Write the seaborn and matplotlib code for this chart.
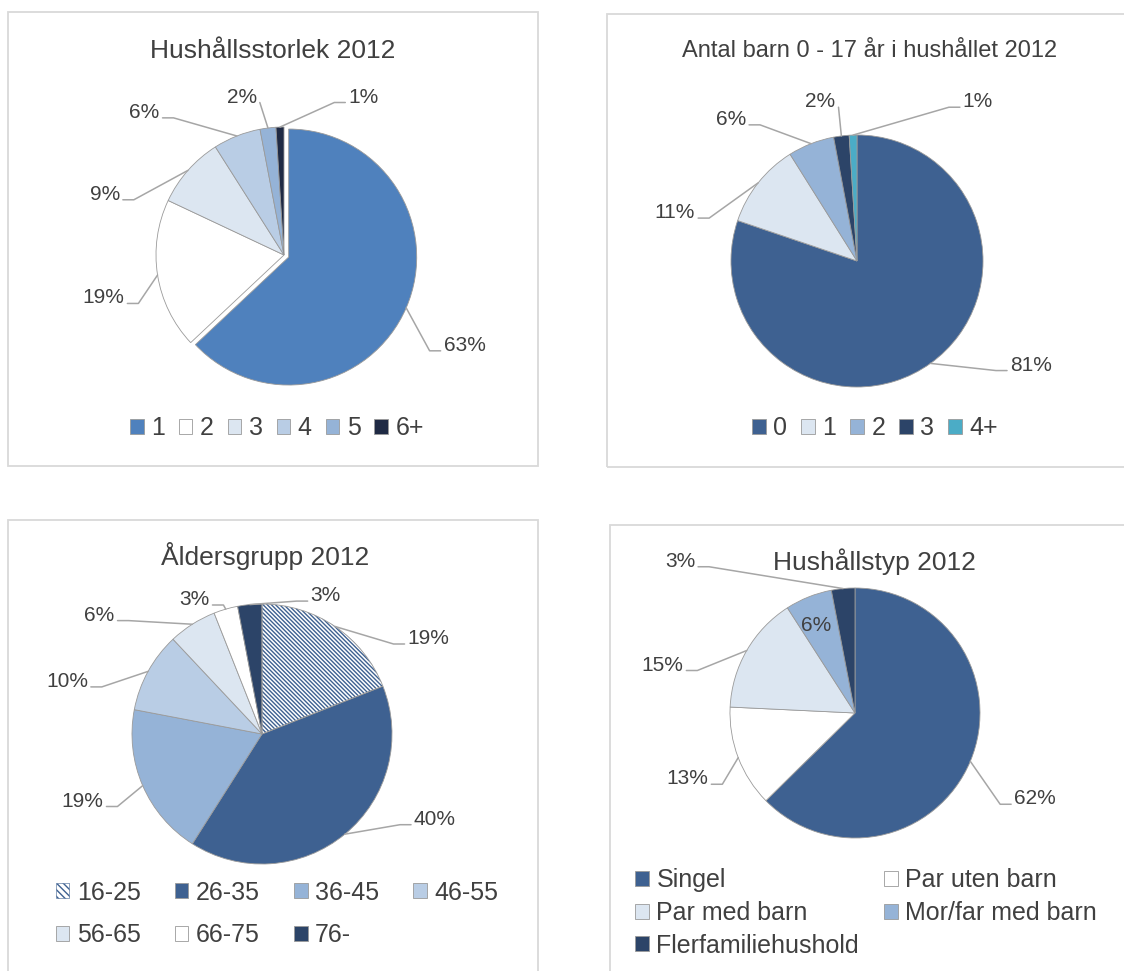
import numpy as np
import matplotlib
matplotlib.use('Agg')
import matplotlib.pyplot as plt
from matplotlib.patches import Rectangle, Patch, Wedge
import seaborn as sns

# ---- data ----
size_labels = ['1', '2', '3', '4', '5', '6+']
size_values = [63, 19, 9, 6, 2, 1]

kids_labels = ['0', '1', '2', '3', '4+']
kids_values = [81, 11, 6, 2, 1]

age_labels = ['16-25', '26-35', '36-45', '46-55', '56-65', '66-75', '76-']
age_values = [19, 40, 19, 10, 6, 3, 3]

type_labels = ['Singel', 'Par uten barn', 'Par med barn', 'Mor/far med barn', 'Flerfamiliehushold']
type_values = [62, 13, 15, 6, 3]

# ---- style ----
sns.set_theme(style='white')
plt.rcParams['font.family'] = ['Liberation Sans', 'DejaVu Sans']
plt.rcParams['hatch.linewidth'] = 1.0

TXT = '#404040'
LINE = '#a6a6a6'
EDGE = '#9a9a9a'
BLUE = '#4f81bd'
DARK = '#3e6191'
NAVY = '#2c4468'
NAVY2 = '#1f2a44'
MID = '#95b3d7'
LIGHT = '#b9cde5'
PALE = '#dce6f1'
TEAL = '#4bacc6'
HATCH = '\\' * 8
LABEL_FS = 15

W, H = 1124, 971
fig = plt.figure(figsize=(W / 100, H / 100), dpi=100)


def box(x0, y0, x1, y1):
    fig.add_artist(Rectangle((x0 / W, 1 - y1 / H), (x1 - x0) / W, (y1 - y0) / H,
                             transform=fig.transFigure, fill=False,
                             edgecolor='#d9d9d9', lw=1.3))


def pie_chart(cx, cy, r, values, colors, spots, explode=None, L=1.7):
    ax = fig.add_axes([(cx - L * r) / W, 1 - (cy + L * r) / H, 2 * L * r / W, 2 * L * r / H])
    wedges, _ = ax.pie(values, colors=colors, startangle=90, counterclock=False,
                       explode=explode,
                       wedgeprops=dict(edgecolor=EDGE, linewidth=0.6))
    for w in wedges:
        w.set_clip_on(False)
    ax.set_xlim(-L, L)
    ax.set_ylim(-L, L)
    ax.axis('off')

    # data labels with Excel-like leader lines
    base = 7.5 / r
    for w, v, (lx, ly, mode) in zip(wedges, values, spots):
        txt = f'{v}%'
        ax.text(lx, ly - base, txt, ha='center', va='baseline', fontsize=LABEL_FS, color=TXT)
        if mode == 'none':
            continue
        ang = np.deg2rad((w.theta1 + w.theta2) / 2)
        ox, oy = w.center
        ex, ey = ox + w.r * np.cos(ang), oy + w.r * np.sin(ang)
        width = (len(txt) - 1) * 11.6 + 18.5
        hw = (width / 2 + 3) / r
        if mode == 'side':
            s = np.sign(lx)
            end = lx - s * hw
            elbow = end - s * 11 / r
            ax.plot([ex, elbow, end], [ey, ly - base, ly - base], color=LINE, lw=1.1,
                    clip_on=False)
        else:  # attach to lower right corner of text
            ax.plot([ex, lx + hw], [ey, ly - base], color=LINE, lw=1.1, clip_on=False)
    return ax, wedges


def legend(labels, colors, x, y, ncol, order=None, colsp=0.55, labsp=0.5, hatches=None):
    handles = []
    for i, (lab, c) in enumerate(zip(labels, colors)):
        if hatches and hatches[i]:
            handles.append(Patch(facecolor='white', edgecolor=DARK, hatch='\\' * 5, lw=0.4))
        else:
            handles.append(Patch(facecolor=c, edgecolor=EDGE, lw=0.6))
    labs = list(labels)
    if order:
        handles = [handles[i] for i in order]
        labs = [labs[i] for i in order]
    fig.legend(handles, labs, loc='center', bbox_to_anchor=(x / W, 1 - y / H), ncol=ncol,
               frameon=False, fontsize=18, labelcolor=TXT, handlelength=0.55,
               handleheight=0.55, handletextpad=0.3, columnspacing=colsp,
               labelspacing=labsp, borderpad=0, borderaxespad=0)


# ---- chart boxes ----
box(8, 12, 538, 466)
box(607, 14, 1135, 467)
box(8, 520, 538, 985)
box(610, 525, 1135, 985)

# ---- 1: Hushållsstorlek ----
size_colors = [BLUE, 'white', PALE, LIGHT, MID, NAVY2]
size_spots = [(1.41, -0.69, 'side'), (-1.41, -0.32, 'side'), (-1.40, 0.49, 'side'),
              (-1.09, 1.13, 'side'), (-0.33, 1.25, 'below'), (0.62, 1.25, 'side')]
pie_chart(284, 255, 128, size_values, size_colors, size_spots,
          explode=[0.04, 0, 0, 0, 0, 0])
fig.text(273 / W, 1 - 58 / H, 'Hushållsstorlek 2012', ha='center', va='baseline',
         fontsize=19, color=TXT)
legend(size_labels, size_colors, 277, 428, ncol=6)

# ---- 2: Antal barn ----
kids_colors = [DARK, PALE, MID, NAVY, TEAL]
kids_spots = [(1.38, -0.81, 'side'), (-1.45, 0.40, 'side'), (-1.00, 1.14, 'side'),
              (-0.29, 1.28, 'below'), (0.96, 1.28, 'side')]
pie_chart(857, 261, 126, kids_values, kids_colors, kids_spots)
fig.text(870 / W, 1 - 57 / H, 'Antal barn 0 - 17 år i hushållet 2012', ha='center',
         va='baseline', fontsize=17, color=TXT)
legend(kids_labels, kids_colors, 875, 428, ncol=5)

# ---- 3: Åldersgrupp ----
age_colors = ['white', DARK, MID, LIGHT, PALE, 'white', NAVY]
age_spots = [(1.28, 0.75, 'side'), (1.33, -0.64, 'side'), (-1.38, -0.50, 'side'),
             (-1.50, 0.42, 'side'), (-1.25, 0.93, 'side'), (-0.52, 1.05, 'side'),
             (0.49, 1.08, 'side')]
ax3, w3 = pie_chart(262, 734, 130, age_values, age_colors, age_spots)
# hatched youngest group: hatch drawn in blue, outline redrawn in grey
hw0 = w3[0]
hw0.set_edgecolor(DARK)
hw0.set_linewidth(0)
hw0.set_hatch(HATCH)
ax3.add_patch(Wedge(hw0.center, hw0.r, hw0.theta1, hw0.theta2, facecolor='none',
                    edgecolor=EDGE, lw=0.6, clip_on=False))
fig.text(265 / W, 1 - 565 / H, 'Åldersgrupp 2012', ha='center', va='baseline',
         fontsize=19, color=TXT)
legend(age_labels, age_colors, 277, 914, ncol=4, order=[0, 4, 1, 5, 2, 6, 3],
       colsp=1.36, labsp=0.75, hatches=[HATCH, None, None, None, None, None, None])

# ---- 4: Hushållstyp ----
type_colors = [DARK, 'white', PALE, MID, NAVY]
type_spots = [(1.44, -0.67, 'side'), (-1.34, -0.51, 'side'), (-1.54, 0.40, 'side'),
              (-0.31, 0.72, 'none'), (-1.40, 1.23, 'side')]
pie_chart(855, 713, 125, type_values, type_colors, type_spots)
fig.text(874 / W, 1 - 570 / H, 'Hushållstyp 2012', ha='center', va='baseline',
         fontsize=19, color=TXT)
legend(type_labels, type_colors, 866, 913, ncol=2, order=[0, 2, 4, 1, 3],
       colsp=1.0, labsp=0.35)

fig.savefig('out.png', dpi=100, facecolor='white')
